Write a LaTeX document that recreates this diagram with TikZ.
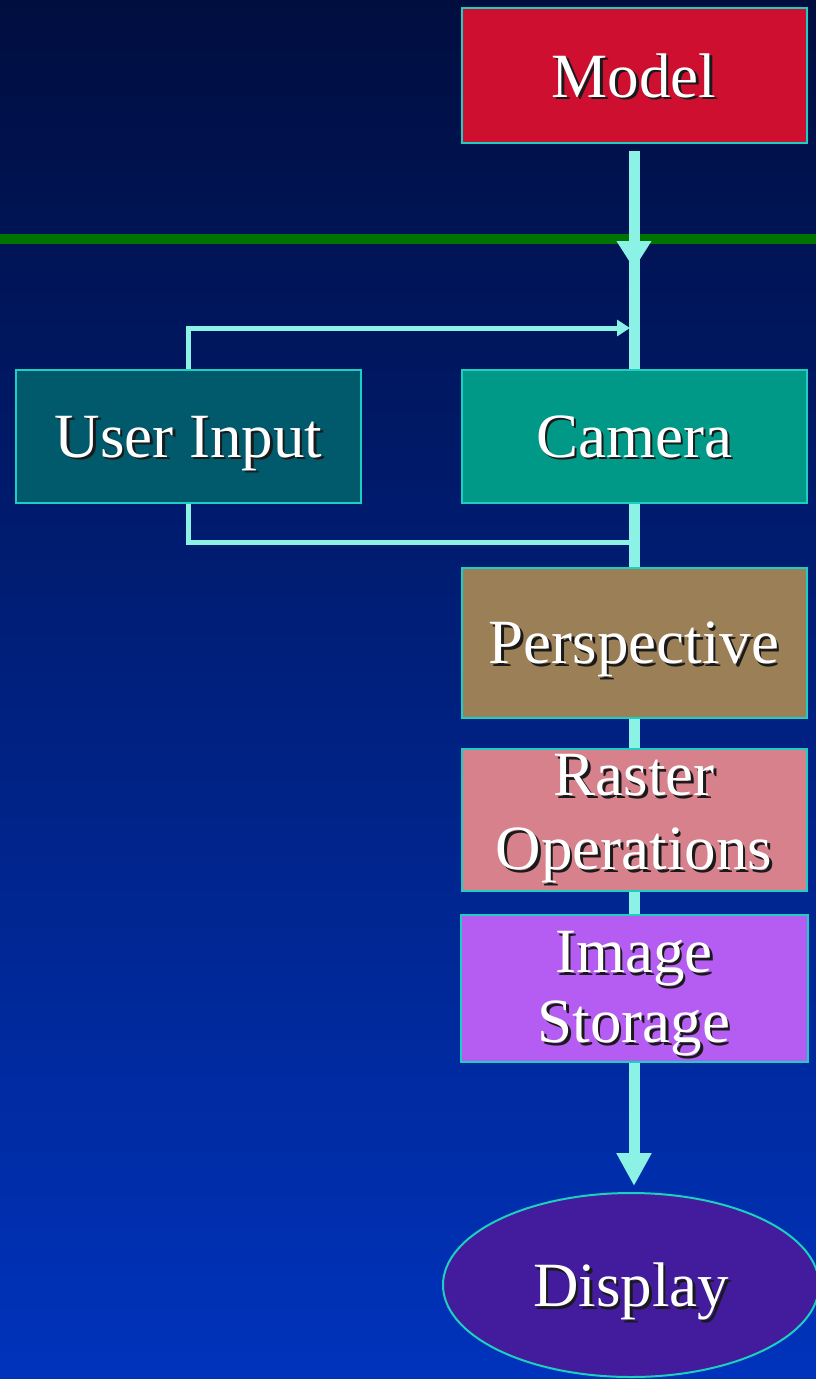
\documentclass[tikz,border=0pt]{standalone}
\usepackage{fontspec}
\setmainfont{Liberation Serif}
\usetikzlibrary{arrows.meta,shapes.geometric}

\definecolor{bgtop}{HTML}{000D3E}
\definecolor{bgbot}{HTML}{0033BD}
\definecolor{barc}{HTML}{007400}
\definecolor{edgec}{HTML}{1CCFC0}
\definecolor{flowc}{HTML}{8CF2E6}
\definecolor{modelc}{HTML}{CF0F30}
\definecolor{userc}{HTML}{005A6B}
\definecolor{camerac}{HTML}{009988}
\definecolor{perspc}{HTML}{9B8057}
\definecolor{rasterc}{HTML}{D6818C}
\definecolor{storec}{HTML}{B55CF2}
\definecolor{displayc}{HTML}{421C9C}
\definecolor{shadowc}{HTML}{1A1A1A}

% white lettering with a dark drop shadow
\newcommand\shtext[1]{\leavevmode\rlap{\kern2.5pt\raisebox{-2.5pt}{\color{shadowc}#1}}#1}

\begin{document}
\begin{tikzpicture}[x=1pt,y=-1pt,
  stage/.style={draw=edgec, line width=2pt, minimum width=345pt,
    inner sep=0pt, text=white, font=\fontsize{63}{74}\selectfont},
  oneline/.style={text depth=0pt},
  flow/.style={draw=flowc, line width=11pt},
  feed/.style={draw=flowc, line width=5pt}]

\useasboundingbox (0,0) rectangle (815,1379);
\shade[top color=bgtop, bottom color=bgbot] (-10,-10) rectangle (830,1389);

% horizontal divider
\fill[barc] (-10,234) rectangle (830,244);

% pipeline stages
\node[stage, oneline, fill=modelc, minimum height=135pt] (model) at (634,75.5) {\shtext{Model}};
\node[stage, oneline, fill=userc, minimum height=133pt] (user) at (188.5,436.5) {\shtext{User Input}};
\node[stage, oneline, fill=camerac, minimum height=133pt] (camera) at (634,436.5) {\shtext{Camera}};
\node[stage, oneline, fill=perspc, minimum height=150pt] (persp) at (634,643) {\shtext{Perspective}};
\node[stage, fill=rasterc, minimum height=142pt, align=center] (raster) at (634,820)
  {\shtext{Raster}\\\shtext{Operations}};
\node[stage, fill=storec, minimum height=147pt, minimum width=347pt, align=center,
  text depth=3pt] (storage) at (634,988.5)
  {\shtext{Image}\\[-4pt]\shtext{Storage}};
\node[ellipse, draw=edgec, line width=2pt, fill=displayc, minimum width=376pt,
  minimum height=184pt, inner sep=0pt, text=white, text depth=0pt,
  font=\fontsize{63}{74}\selectfont] (display) at (631,1285) {\shtext{Display}};

% main data path
\coordinate (tipA) at (634,269);
\coordinate (tipB) at (634,1186);
\draw[flow] ([yshift=-7pt]model.south) -- (camera.north);
\draw[flow, -{Triangle[width=33pt,length=28pt]}] ([yshift=-7pt]model.south) -- (tipA);
\draw[flow] (camera.south) -- (persp.north);
\draw[flow] (persp.south) -- (raster.north);
\draw[flow] (raster.south) -- (storage.north);
\draw[flow, -{Triangle[width=33pt,length=33pt]}] (storage.south) -- (tipB);

% user interaction loop
\coordinate (inTip) at (630,328);
\coordinate (outEnd) at (630,542);
\draw[feed, -{Triangle[width=16pt,length=13pt]}] (user.north) |- (inTip);
\draw[feed] (user.south) |- (outEnd);
\end{tikzpicture}
\end{document}
